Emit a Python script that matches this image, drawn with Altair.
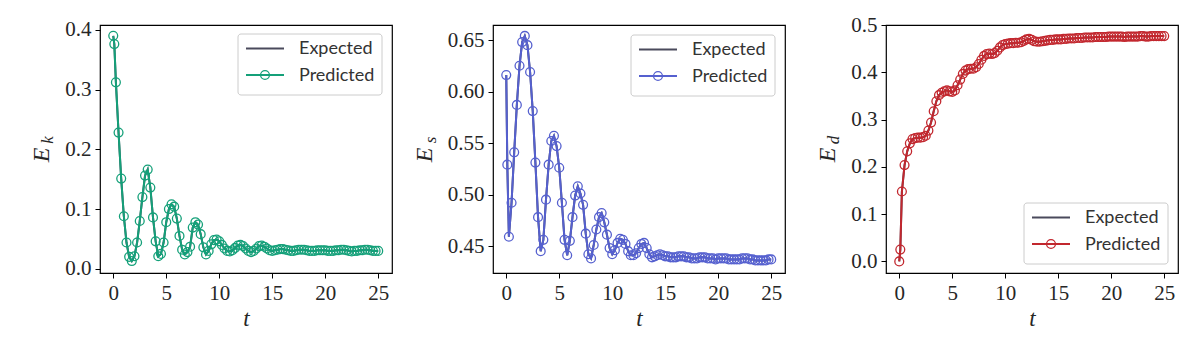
import altair as alt
import pandas as pd

# time grid
T = [0.0, 0.1,
     0.25, 0.5, 0.75, 1.0, 1.25, 1.5, 1.75, 2.0, 2.25, 2.5, 2.75, 3.0,
     3.25, 3.5, 3.75, 4.0, 4.25, 4.5, 4.75, 5.0, 5.25, 5.5, 5.75, 6.0,
     6.25, 6.5, 6.75, 7.0, 7.25, 7.5, 7.75, 8.0, 8.25, 8.5, 8.75, 9.0,
     9.25, 9.5, 9.75, 10.0, 10.25, 10.5, 10.75, 11.0, 11.25, 11.5, 11.75, 12.0,
     12.25, 12.5, 12.75, 13.0, 13.25, 13.5, 13.75, 14.0, 14.25, 14.5, 14.75, 15.0,
     15.25, 15.5, 15.75, 16.0, 16.25, 16.5, 16.75, 17.0, 17.25, 17.5, 17.75, 18.0,
     18.25, 18.5, 18.75, 19.0, 19.25, 19.5, 19.75, 20.0, 20.25, 20.5, 20.75, 21.0,
     21.25, 21.5, 21.75, 22.0, 22.25, 22.5, 22.75, 23.0, 23.25, 23.5, 23.75, 24.0,
     24.25, 24.5, 24.75, 25.0]

EK = [0.390, 0.376,
      0.312, 0.228, 0.151, 0.088, 0.044, 0.020, 0.013, 0.021, 0.044, 0.080, 0.120, 0.156,
      0.166, 0.136, 0.086, 0.046, 0.021, 0.025, 0.044, 0.078, 0.100, 0.108, 0.104, 0.084,
      0.055, 0.032, 0.024, 0.028, 0.037, 0.069, 0.078, 0.074, 0.058, 0.036, 0.024, 0.030,
      0.041, 0.048, 0.049, 0.046, 0.040, 0.034, 0.030, 0.029, 0.031, 0.035, 0.039, 0.040,
      0.038, 0.034, 0.030, 0.028, 0.030, 0.034, 0.038, 0.039, 0.037, 0.034, 0.031, 0.030,
      0.031, 0.032, 0.033, 0.033, 0.032, 0.031, 0.030, 0.030, 0.031, 0.032, 0.032, 0.032,
      0.031, 0.030, 0.030, 0.030, 0.031, 0.031, 0.031, 0.031, 0.030, 0.030, 0.030, 0.031,
      0.031, 0.032, 0.032, 0.031, 0.030, 0.029, 0.030, 0.030, 0.031, 0.031, 0.032, 0.032,
      0.031, 0.030, 0.030, 0.030]

ES = [0.616, 0.529,
      0.459, 0.492, 0.541, 0.587, 0.625, 0.648, 0.654, 0.645, 0.619, 0.581, 0.531, 0.478,
      0.445, 0.456, 0.495, 0.529, 0.552, 0.557, 0.547, 0.526, 0.492, 0.456, 0.441, 0.455,
      0.478, 0.499, 0.508, 0.501, 0.490, 0.462, 0.442, 0.438, 0.451, 0.466, 0.478, 0.482,
      0.473, 0.461, 0.448, 0.442, 0.446, 0.453, 0.457, 0.456, 0.452, 0.445, 0.441, 0.441,
      0.443, 0.448, 0.452, 0.453, 0.448, 0.442, 0.439, 0.440, 0.441, 0.442, 0.441, 0.440,
      0.440, 0.439, 0.439, 0.439, 0.440, 0.440, 0.440, 0.439, 0.439, 0.438, 0.438, 0.438,
      0.439, 0.439, 0.439, 0.438, 0.438, 0.438, 0.437, 0.438, 0.438, 0.438, 0.438, 0.437,
      0.437, 0.437, 0.437, 0.437, 0.438, 0.438, 0.438, 0.437, 0.437, 0.436, 0.436, 0.436,
      0.436, 0.436, 0.437, 0.437]

ED = [0.000, 0.025,
      0.148, 0.204, 0.233, 0.250, 0.259, 0.261, 0.262, 0.262, 0.263, 0.266, 0.277, 0.294,
      0.318, 0.339, 0.352, 0.357, 0.360, 0.362, 0.360, 0.359, 0.362, 0.373, 0.385, 0.397,
      0.404, 0.407, 0.408, 0.408, 0.411, 0.418, 0.427, 0.435, 0.439, 0.440, 0.439, 0.441,
      0.446, 0.453, 0.458, 0.460, 0.461, 0.462, 0.462, 0.463, 0.463, 0.464, 0.467, 0.470,
      0.471, 0.469, 0.466, 0.465, 0.465, 0.466, 0.467, 0.468, 0.469, 0.469, 0.470, 0.470,
      0.470, 0.471, 0.471, 0.472, 0.472, 0.472, 0.473, 0.473, 0.473, 0.474, 0.474, 0.474,
      0.474, 0.475, 0.475, 0.475, 0.475, 0.475, 0.476, 0.476, 0.476, 0.476, 0.476, 0.476,
      0.475, 0.476, 0.476, 0.476, 0.476, 0.476, 0.477, 0.477, 0.476, 0.476, 0.477, 0.477,
      0.477, 0.477, 0.477, 0.477]

# Expected curves coincide with the predictions in the picture
EK_EXP = list(EK)
ES_EXP = list(ES)
ED_EXP = list(ED)

X_TICKS = [0, 5, 10, 15, 20, 25]
SERIES = ["Expected", "Predicted"]

GRAY = "#4a4a5c"
GREEN = "#14a079"
BLUE = "#5560cf"
RED = "#c2272e"

W, H = 292, 248
TICK_FONT = "Liberation Serif"
SANS = "Lato"


def panel(pred, exp, color, sub, ydomain, yticks, yfmt, title_x, legend_top):
    d_exp = pd.DataFrame({"t": T, "v": exp})
    d_pred = pd.DataFrame({"t": T, "v": pred})
    x = alt.X("t:Q", scale=alt.Scale(domain=[-1.25, 26.3], nice=False, zero=False),
              axis=alt.Axis(values=X_TICKS, format="d", title="t", titleFont=TICK_FONT,
                            titleFontStyle="italic", titleFontWeight="normal",
                            titleFontSize=23, titlePadding=4, titleColor="#262626"))
    y = alt.Y("v:Q", scale=alt.Scale(domain=ydomain, nice=False, zero=False),
              axis=alt.Axis(values=yticks, format=yfmt, title=None))
    exp_line = alt.Chart(d_exp).mark_line(color=GRAY, strokeWidth=2).encode(x=x, y=y)
    pred_line = alt.Chart(d_pred).mark_line(color=color, strokeWidth=2).encode(x=x, y=y)
    pred_pts = alt.Chart(d_pred).mark_point(shape="circle", filled=False, color=color,
                                            size=78, strokeWidth=1.3, opacity=1).encode(x=x, y=y)

    one = alt.Data(values=[{"k": 0}])
    e_lab = alt.Chart(one).mark_text(angle=270, font=TICK_FONT, fontStyle="italic",
                                     fontSize=24, color="#262626").encode(
        x=alt.value(title_x), y=alt.value(H / 2 + 6), text=alt.value("E"))
    s_lab = alt.Chart(one).mark_text(angle=270, font=TICK_FONT, fontStyle="italic",
                                     fontSize=17, color="#262626").encode(
        x=alt.value(title_x + 6), y=alt.value(H / 2 - 9), text=alt.value(sub))

    lt = legend_top
    box = alt.Chart(one).mark_rect(fill="white", fillOpacity=0.8, stroke="#cccccc",
                                   strokeWidth=1, cornerRadius=3).encode(
        x=alt.value(138), x2=alt.value(282), y=alt.value(lt), y2=alt.value(lt + 61))
    l1 = alt.Chart(one).mark_rule(color=GRAY, strokeWidth=2).encode(
        x=alt.value(146), x2=alt.value(184), y=alt.value(lt + 14.5))
    l2 = alt.Chart(one).mark_rule(color=color, strokeWidth=2).encode(
        x=alt.value(146), x2=alt.value(184), y=alt.value(lt + 41))
    p2 = alt.Chart(one).mark_point(shape="circle", filled=False, color=color, size=78,
                                   strokeWidth=1.3, opacity=1).encode(
        x=alt.value(165), y=alt.value(lt + 41))
    t1 = alt.Chart(one).mark_text(align="left", baseline="middle", font=SANS, fontSize=18,
                                  color="#333333").encode(
        x=alt.value(199), y=alt.value(lt + 15), text=alt.value(SERIES[0]))
    t2 = alt.Chart(one).mark_text(align="left", baseline="middle", font=SANS, fontSize=18,
                                  color="#333333").encode(
        x=alt.value(199), y=alt.value(lt + 41.5), text=alt.value(SERIES[1]))

    return alt.layer(exp_line, pred_line, pred_pts, e_lab, s_lab,
                     box, l1, l2, p2, t1, t2).properties(width=W, height=H)


c1 = panel(EK, EK_EXP, GREEN, "k", [-0.007, 0.408], [0.0, 0.1, 0.2, 0.3, 0.4], ".1f", -58, 9)
c2 = panel(ES, ES_EXP, BLUE, "s", [0.4238, 0.6646], [0.45, 0.50, 0.55, 0.60, 0.65], ".2f", -68, 10)
c3 = panel(ED, ED_EXP, RED, "d", [-0.0245, 0.5005], [0.0, 0.1, 0.2, 0.3, 0.4, 0.5], ".1f", -58, 178)

chart = alt.hconcat(c1, c2, c3, spacing=101, bounds="flush").properties(
    padding={"left": 21, "top": 5, "right": 5, "bottom": 5}
).configure_view(
    stroke="black", strokeWidth=1.2
).configure_axis(
    grid=False, domain=False, ticks=True, tickColor="black", tickSize=5, tickWidth=1,
    labelFont=TICK_FONT, labelFontSize=21, labelColor="#262626", labelPadding=4,
    labelOverlap=False, labelFlush=False
)

chart.save("out.html", embed_options={"renderer": "svg", "actions": False})
